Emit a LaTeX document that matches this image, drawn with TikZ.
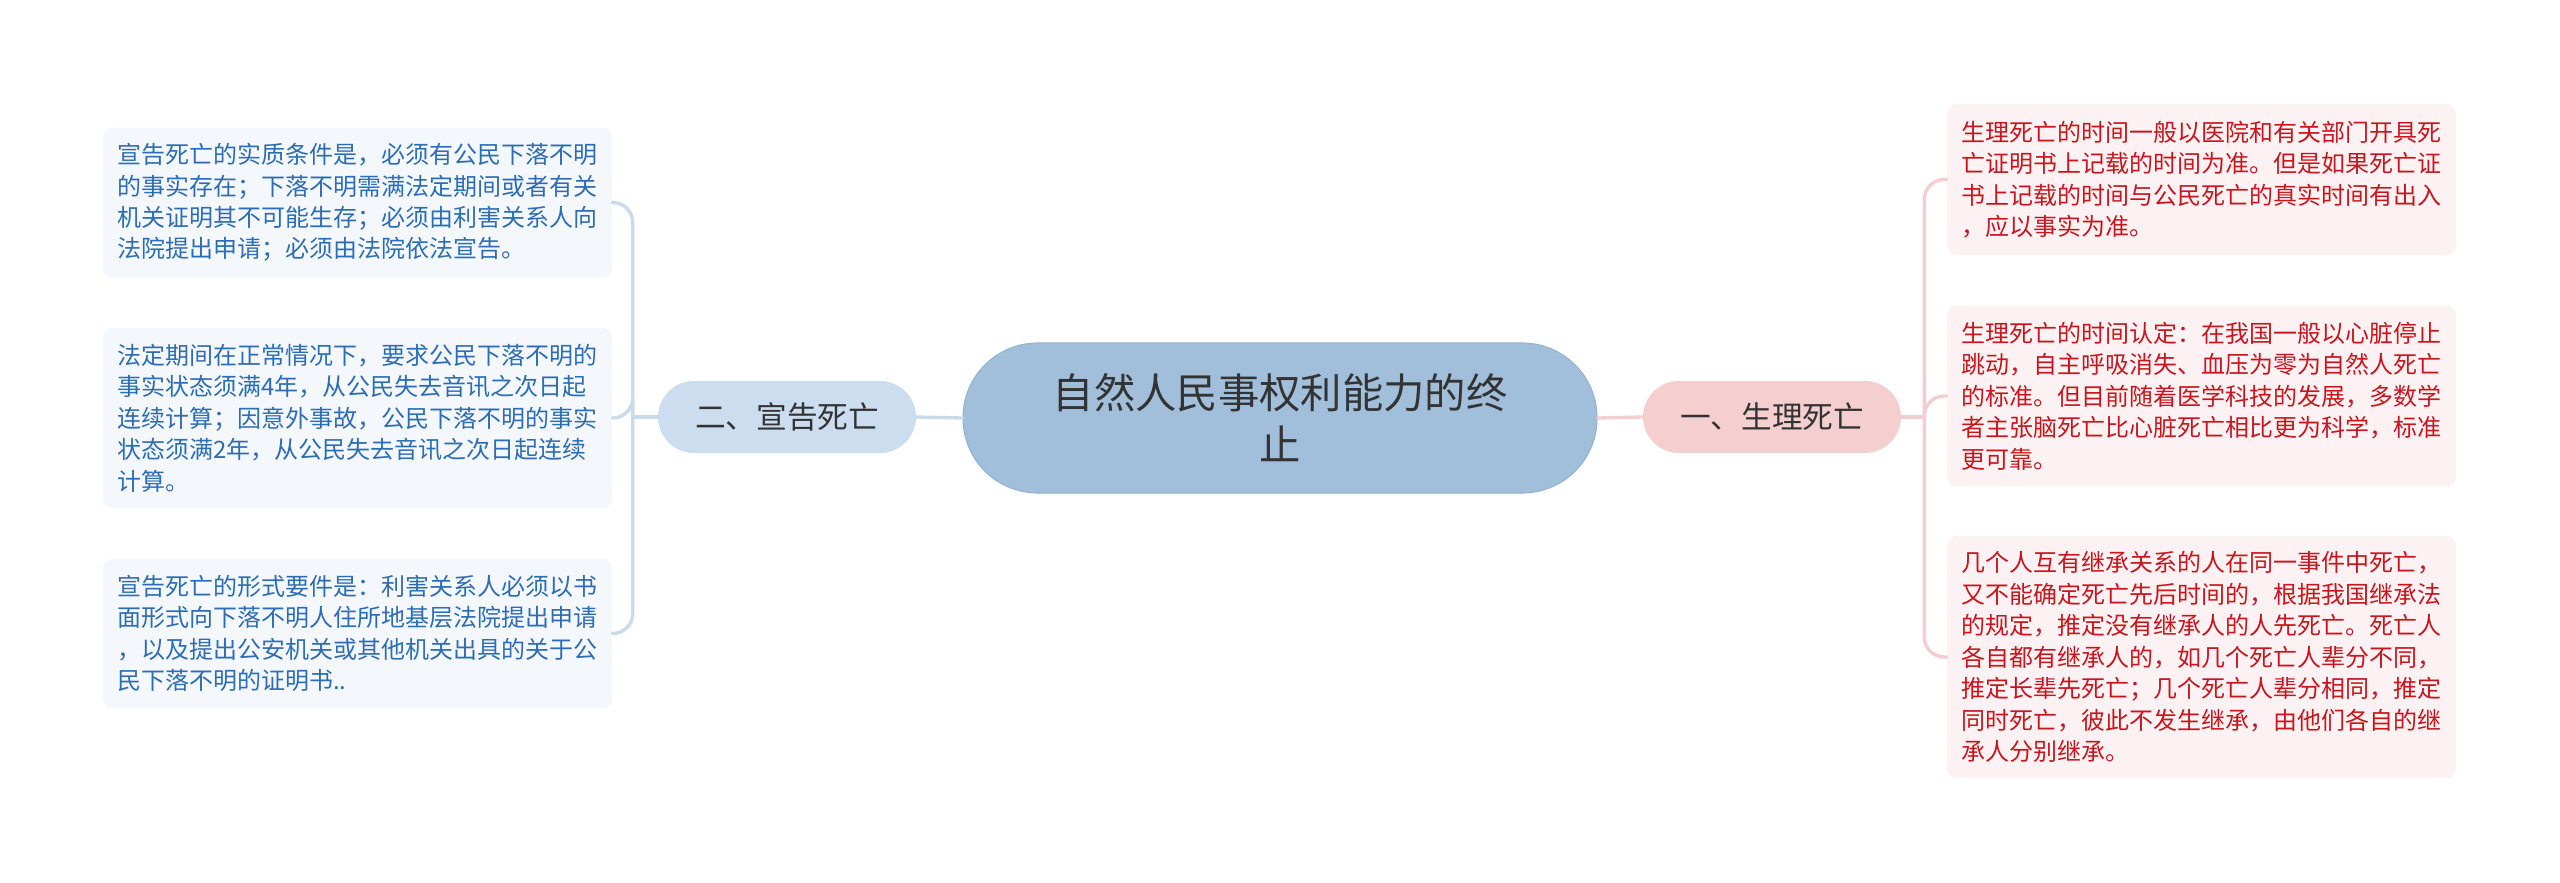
\documentclass[tikz,border=0pt]{standalone}
\usepackage{fontspec}
\setmainfont{Noto Sans CJK SC}
\definecolor{rootfill}{HTML}{A1BFDB}
\definecolor{rootdraw}{HTML}{93B3D3}
\definecolor{textdark}{HTML}{333333}
\definecolor{lbranchfill}{HTML}{CBDDEE}
\definecolor{rbranchfill}{HTML}{F5CED0}
\definecolor{lleaffill}{HTML}{F4F8FD}
\definecolor{rleaffill}{HTML}{FDF2F3}
\definecolor{lleaftext}{HTML}{2D6DB5}
\definecolor{rleaftext}{HTML}{C8161E}
\definecolor{llinecolor}{HTML}{C9DAEB}
\definecolor{rlinecolor}{HTML}{F3CDCF}
\tikzset{
  root/.style={fill=rootfill, draw=rootdraw, line width=0.8pt, rounded corners=56pt,
    minimum width=475.5pt, minimum height=112.5pt, align=center, text=textdark,
    font={\fontsize{31pt}{39pt}\selectfont}},
  branch/.style={rounded corners=27pt, minimum width=193.5pt, minimum height=54pt,
    text=textdark, font={\fontsize{23pt}{28pt}\selectfont}},
  leaf/.style={rounded corners=7pt, text width=360.75pt, inner xsep=10.5pt, align=left,
    font={\fontsize{18pt}{23.6pt}\selectfont}},
  lleaf/.style={leaf, fill=lleaffill, text=lleaftext},
  rleaf/.style={leaf, fill=rleaffill, text=rleaftext},
  lline/.style={draw=llinecolor, line width=2.5pt, rounded corners=15pt},
  rline/.style={draw=rlinecolor, line width=2.5pt, rounded corners=15pt}
}
\begin{document}
\begin{tikzpicture}[x=0.75pt, y=-0.75pt, line cap=round]
  \useasboundingbox (0,0) rectangle (2560,882);

  % 1. 中心主题与两个分支
  \node[root] (root) at (1280,418) {自然人民事权利能力的终\\止};
  \node[branch, fill=lbranchfill] (lb) at (787,417) {二、宣告死亡};
  \node[branch, fill=rbranchfill] (rb) at (1772,417) {一、生理死亡};

  % 2. 左侧叶子：宣告死亡
  \node[lleaf, minimum height=112.5pt] (l1) at (357.5,202.5) {宣告死亡的实质条件是，必须有公民下落不明\\的事实存在；下落不明需满法定期间或者有关\\机关证明其不可能生存；必须由利害关系人向\\法院提出申请；必须由法院依法宣告。};
  \node[lleaf, minimum height=135pt] (l2) at (357.5,418) {法定期间在正常情况下，要求公民下落不明的\\事实状态须满4年，从公民失去音讯之次日起\\连续计算；因意外事故，公民下落不明的事实\\状态须满2年，从公民失去音讯之次日起连续\\计算。};
  \node[lleaf, minimum height=112.5pt] (l3) at (357.5,633.5) {宣告死亡的形式要件是：利害关系人必须以书\\面形式向下落不明人住所地基层法院提出申请\\，以及提出公安机关或其他机关出具的关于公\\民下落不明的证明书..};

  % 3. 右侧叶子：生理死亡
  \node[rleaf, minimum height=113pt] (r1) at (2201.5,179.5) {生理死亡的时间一般以医院和有关部门开具死\\亡证明书上记载的时间为准。但是如果死亡证\\书上记载的时间与公民死亡的真实时间有出入\\，应以事实为准。};
  \node[rleaf, minimum height=136pt] (r2) at (2201.5,396) {生理死亡的时间认定：在我国一般以心脏停止\\跳动，自主呼吸消失、血压为零为自然人死亡\\的标准。但目前随着医学科技的发展，多数学\\者主张脑死亡比心脏死亡相比更为科学，标准\\更可靠。};
  \node[rleaf, minimum height=181.5pt] (r3) at (2201.5,657) {几个人互有继承关系的人在同一事件中死亡，\\又不能确定死亡先后时间的，根据我国继承法\\的规定，推定没有继承人的人先死亡。死亡人\\各自都有继承人的，如几个死亡人辈分不同，\\推定长辈先死亡；几个死亡人辈分相同，推定\\同时死亡，彼此不发生继承，由他们各自的继\\承人分别继承。};

  % 4. 连线
  \draw[lline] (root.west) -- (lb.east);
  \draw[rline] (root.east) -- (rb.west);
  \draw[lline] (lb.west) -- ++(-25,0) coordinate (lspine);
  \draw[rline] (rb.east) -- ++(23,0) coordinate (rspine);
  \foreach \leaf in {l1,l2,l3}
    \draw[lline] (lspine) |- (\leaf.east);
  \foreach \leaf in {r1,r2,r3}
    \draw[rline] (rspine) |- (\leaf.west);
\end{tikzpicture}
\end{document}
